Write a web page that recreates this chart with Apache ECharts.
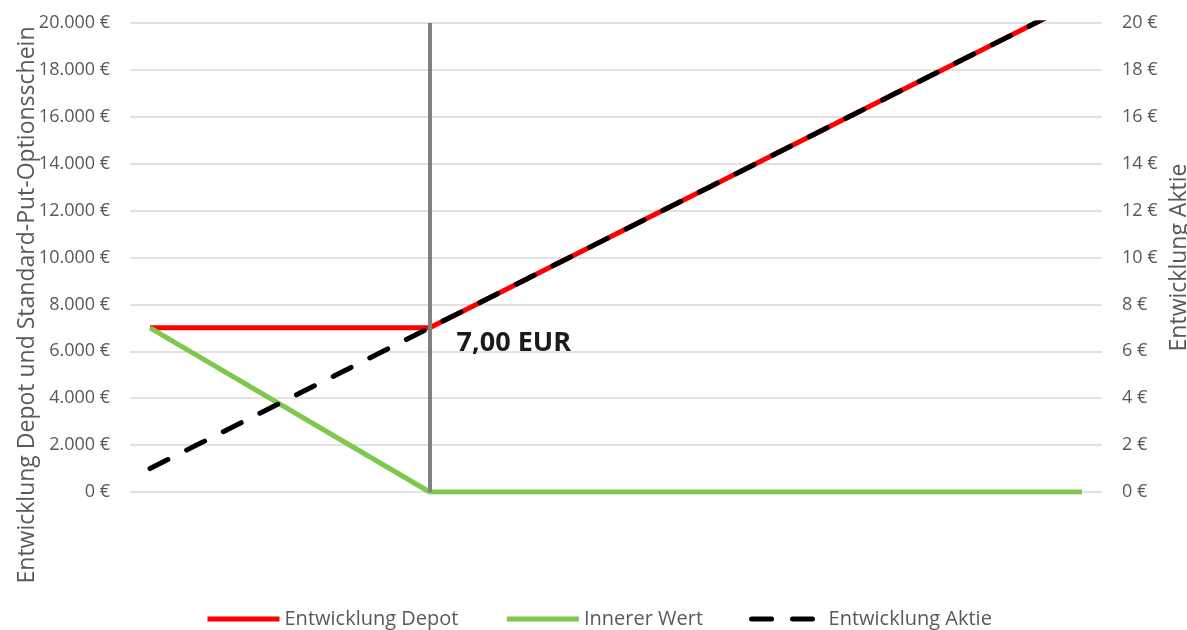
<!DOCTYPE html>
<html>
<head>
<meta charset="utf-8">
<script src="https://cdn.jsdelivr.net/npm/echarts@6/dist/echarts.min.js"></script>
<style>
  html, body { margin: 0; padding: 0; background: #ffffff; }
  #chart { width: 1187px; height: 630px; }
</style>
</head>
<body>
<div id="chart"></div>
<script>
// Aktienkurs (x-Werte), in EUR
const kurse = [1, 2, 3, 4, 5, 6, 7, 8, 9, 10, 11, 12, 13, 14, 15, 16, 17, 18, 19, 20, 21];
// Wert des Depots in EUR
const depot = [7000, 7000, 7000, 7000, 7000, 7000, 7000, 8000, 9000, 10000, 11000, 12000, 13000, 14000, 15000, 16000, 17000, 18000, 19000, 20000, 21000];
// Innerer Wert des Put-Optionsscheins in EUR (gerade Abschnitte, fehlende Punkte entfallen)
const innererWert = [7000, null, null, null, null, null, 0, 0, 0, 0, 0, 0, 0, 0, 0, 0, 0, 0, 0, 0, 0];
// Kurs der Aktie in EUR (rechte Achse)
const aktie = [1, 2, 3, 4, 5, 6, 7, 8, 9, 10, 11, 12, 13, 14, 15, 16, 17, 18, 19, 20, 21];
// Basispreis des Optionsscheins in EUR
const basispreis = 7;
// Achsenbereiche
const kursAchse = { min: 0.57, max: 21.43 };
const depotAchse = { min: 0, max: 20000, interval: 2000 };
const aktieAchse = { min: 0, max: 20, interval: 2 };

const FONT = '"Open Sans", "Noto Sans", sans-serif';
const GREY = '#595959';

function tausender(v) {
  return String(v).replace(/\B(?=(\d{3})+(?!\d))/g, '.') + ' €';
}
function paare(werte) {
  const out = [];
  kurse.forEach((k, i) => { if (werte[i] !== null) out.push([k, werte[i]]); });
  return out;
}

const chart = echarts.init(document.getElementById('chart'));
chart.setOption({
  animation: false,
  backgroundColor: '#ffffff',
  textStyle: { fontFamily: FONT },
  grid: { left: 130, right: 85, top: 23, bottom: 138, containLabel: false, outerBoundsMode: 'none' },
  legend: {
    top: 604,
    left: 200,
    itemWidth: 72,
    itemHeight: 14,
    itemGap: 46,
    itemStyle: { opacity: 0 },
    lineStyle: { width: 5 },
    textStyle: { color: GREY, fontSize: 20, fontFamily: FONT },
    data: ['Entwicklung Depot', 'Innerer Wert', 'Entwicklung Aktie']
  },
  xAxis: {
    type: 'value',
    min: kursAchse.min,
    max: kursAchse.max,
    axisLine: { show: false },
    axisTick: { show: false },
    axisLabel: { show: false },
    splitLine: { show: false }
  },
  yAxis: [
    {
      type: 'value',
      min: depotAchse.min,
      max: depotAchse.max,
      interval: depotAchse.interval,
      axisLine: { show: false },
      axisTick: { show: false },
      axisLabel: { color: GREY, fontSize: 18, margin: 20, formatter: tausender },
      splitLine: { lineStyle: { color: '#d9d9d9', width: 1.5 } }
    },
    {
      type: 'value',
      position: 'right',
      min: aktieAchse.min,
      max: aktieAchse.max,
      interval: aktieAchse.interval,
      name: 'Entwicklung Aktie',
      nameLocation: 'middle',
      nameRotate: 90,
      nameGap: 57,
      nameTextStyle: { color: GREY, fontSize: 23 },
      axisLine: { show: false },
      axisTick: { show: false },
      axisLabel: { color: GREY, fontSize: 18, margin: 20, formatter: v => v + ' €' },
      splitLine: { show: false }
    }
  ],
  graphic: [
    {
      type: 'text',
      x: 27,
      y: 305,
      rotation: Math.PI / 2,
      style: {
        text: 'Entwicklung Depot und Standard-Put-Optionsschein',
        fill: GREY,
        font: '23px ' + FONT,
        align: 'center',
        verticalAlign: 'middle'
      }
    }
  ],
  series: [
    {
      name: 'Entwicklung Depot',
      type: 'line',
      yAxisIndex: 0,
      data: paare(depot),
      symbol: 'none',
      color: '#ff0000',
      lineStyle: { color: '#ff0000', width: 5 },
      z: 2,
      markLine: {
        silent: true,
        symbol: ['none', 'none'],
        label: { show: false },
        lineStyle: { color: '#808080', width: 4, type: 'solid' },
        data: [{ xAxis: basispreis }]
      }
    },
    {
      name: 'Innerer Wert',
      type: 'line',
      yAxisIndex: 0,
      data: paare(innererWert),
      symbol: 'none',
      color: '#7ec850',
      lineStyle: { color: '#7ec850', width: 5 },
      z: 3
    },
    {
      name: 'Entwicklung Aktie',
      type: 'line',
      yAxisIndex: 1,
      data: paare(aktie),
      symbol: 'none',
      color: '#000000',
      lineStyle: { color: '#000000', width: 5, type: [20, 21], cap: 'round' },
      z: 4,
      markPoint: {
        symbol: 'circle',
        symbolSize: 0,
        data: [{ coord: [basispreis, aktie[kurse.indexOf(basispreis)]], value: aktie[kurse.indexOf(basispreis)] }],
        label: {
          show: true,
          position: 'right',
          distance: 27,
          offset: [0, 15],
          color: '#1a1a1a',
          fontSize: 27,
          fontWeight: 'bold',
          fontFamily: FONT,
          formatter: p => p.value.toFixed(2).replace('.', ',') + ' EUR'
        }
      }
    }
  ]
});
</script>
</body>
</html>
